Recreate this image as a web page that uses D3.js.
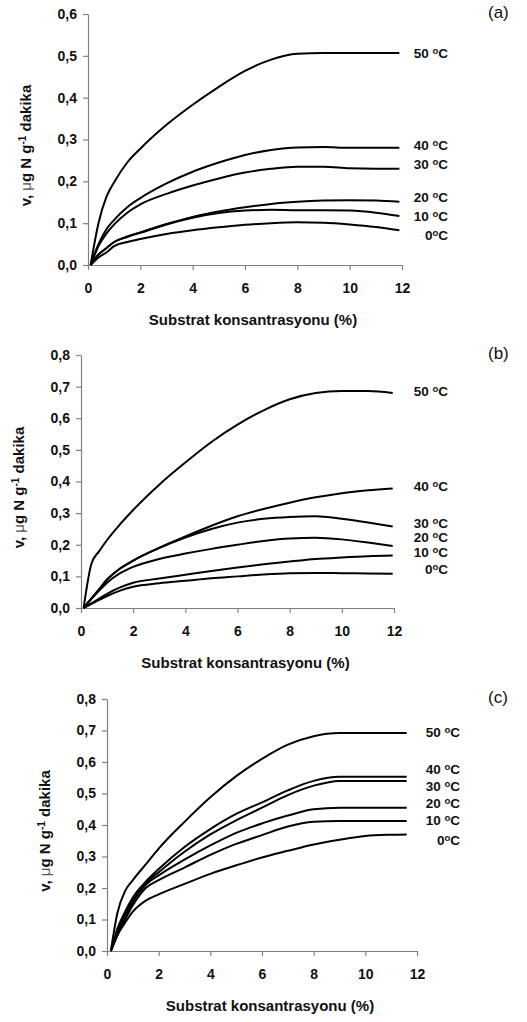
<!DOCTYPE html>
<html>
<head>
<meta charset="utf-8">
<script src="https://cdn.jsdelivr.net/npm/d3@7"></script>
<style>
  body { margin: 0; background: #fff; }
  svg { display: block; font-family: "Liberation Sans", Arial, sans-serif; }
</style>
</head>
<body>
<div id="vis"></div>
<script>
'use strict';

// Temperatures, top curve to bottom curve
const temps = ['50', '40', '30', '20', '10', '0'];
const xTicks = [0, 2, 4, 6, 8, 10, 12];

// Substrate concentration (%) where each curve was read
const xA = [0.1, 0.4, 0.7, 1, 1.5, 2, 3, 4, 5, 6, 7, 8, 9, 10, 11, 11.9];
const xB = [0.1, 0.4, 0.7, 1, 1.5, 2, 3, 4, 5, 6, 7, 8, 9, 10, 11, 11.95];
const xC = [0.15, 0.4, 0.7, 1, 1.5, 2, 3, 4, 5, 6, 7, 8, 9, 10, 11, 11.6];

// (a) rate v, ug N g-1 dakika
const a50 = [0, 0.10, 0.162, 0.198, 0.245, 0.278, 0.335, 0.383, 0.426, 0.464, 0.491, 0.505, 0.507, 0.507, 0.507, 0.507];
const a40 = [0, 0.05, 0.085, 0.108, 0.138, 0.16, 0.195, 0.223, 0.245, 0.263, 0.275, 0.281, 0.282, 0.28, 0.28, 0.28];
const a30 = [0, 0.045, 0.075, 0.097, 0.125, 0.145, 0.17, 0.19, 0.207, 0.221, 0.23, 0.235, 0.235, 0.231, 0.23, 0.23];
const a20 = [0, 0.025, 0.04, 0.055, 0.068, 0.078, 0.098, 0.115, 0.128, 0.138, 0.146, 0.151, 0.154, 0.155, 0.154, 0.151];
const a10 = [0, 0.025, 0.04, 0.055, 0.067, 0.077, 0.097, 0.113, 0.124, 0.13, 0.132, 0.131, 0.131, 0.13, 0.125, 0.117];
const a0 = [0, 0.018, 0.03, 0.045, 0.055, 0.062, 0.074, 0.083, 0.09, 0.096, 0.1, 0.102, 0.101, 0.097, 0.091, 0.083];

// (b)
const b50 = [0, 0.14, 0.18, 0.215, 0.265, 0.31, 0.39, 0.46, 0.525, 0.58, 0.625, 0.66, 0.68, 0.686, 0.686, 0.68];
const b40 = [0, 0.03, 0.06, 0.09, 0.125, 0.15, 0.19, 0.226, 0.26, 0.29, 0.313, 0.333, 0.35, 0.363, 0.372, 0.378];
const b30 = [0, 0.03, 0.06, 0.09, 0.125, 0.15, 0.19, 0.223, 0.25, 0.27, 0.282, 0.288, 0.29, 0.282, 0.27, 0.258];
const b20 = [0, 0.03, 0.055, 0.08, 0.11, 0.13, 0.155, 0.172, 0.187, 0.2, 0.212, 0.22, 0.222, 0.217, 0.207, 0.196];
const b10 = [0, 0.015, 0.03, 0.045, 0.065, 0.08, 0.093, 0.105, 0.117, 0.128, 0.138, 0.147, 0.155, 0.16, 0.164, 0.166];
const b0 = [0, 0.013, 0.026, 0.038, 0.055, 0.067, 0.078, 0.086, 0.094, 0.1, 0.106, 0.11, 0.111, 0.11, 0.109, 0.108];

// (c)
const c50 = [0, 0.12, 0.19, 0.225, 0.275, 0.325, 0.41, 0.488, 0.555, 0.61, 0.655, 0.682, 0.692, 0.692, 0.692, 0.692];
const c40 = [0, 0.07, 0.125, 0.17, 0.22, 0.26, 0.33, 0.387, 0.435, 0.472, 0.51, 0.54, 0.553, 0.553, 0.553, 0.553];
const c30 = [0, 0.06, 0.115, 0.16, 0.215, 0.25, 0.315, 0.37, 0.415, 0.455, 0.495, 0.525, 0.54, 0.54, 0.54, 0.54];
const c20 = [0, 0.055, 0.105, 0.155, 0.21, 0.24, 0.29, 0.335, 0.375, 0.405, 0.43, 0.45, 0.455, 0.455, 0.455, 0.455];
const c10 = [0, 0.05, 0.1, 0.145, 0.2, 0.225, 0.265, 0.305, 0.34, 0.368, 0.395, 0.41, 0.413, 0.413, 0.413, 0.413];
const c0 = [0, 0.05, 0.09, 0.125, 0.16, 0.18, 0.213, 0.245, 0.272, 0.297, 0.318, 0.338, 0.353, 0.365, 0.369, 0.37];

// Where the temperature labels sit, in v units
const labA = [0.507, 0.287, 0.241, 0.163, 0.117, 0.072];
const labB = [0.686, 0.386, 0.269, 0.224, 0.178, 0.124];
const labC = [0.694, 0.576, 0.523, 0.469, 0.414, 0.352];

// Panel geometry (pixels)
const panels = [
  { tag: '(a)', xs: xA, series: [a50, a40, a30, a20, a10, a0], labels: labA, yMax: 0.6,
    left: 88, right: 402, top: 14, bottom: 265, labelEnd: 448 },
  { tag: '(b)', xs: xB, series: [b50, b40, b30, b20, b10, b0], labels: labB, yMax: 0.8,
    left: 81, right: 394, top: 355, bottom: 608, labelEnd: 448 },
  { tag: '(c)', xs: xC, series: [c50, c40, c30, c20, c10, c0], labels: labC, yMax: 0.8,
    left: 107, right: 417, top: 699, bottom: 951, labelEnd: 460 }
];

const width = 527;
const height = 1022;
const axisColor = '#808080';
const fmt = d => d3.format('.1f')(d).replace('.', ',');

const svg = d3.select('#vis')
  .append('svg')
  .attr('width', width)
  .attr('height', height);

panels.forEach(function (p) {
  const x = d3.scaleLinear().domain([0, 12]).range([p.left, p.right]);
  const y = d3.scaleLinear().domain([0, p.yMax]).range([p.bottom, p.top]);
  const g = svg.append('g');

  // x axis
  const xAxis = g.append('g')
    .attr('transform', `translate(0,${p.bottom})`)
    .call(d3.axisBottom(x).tickValues(xTicks).tickSize(5).tickSizeOuter(0).tickPadding(13));

  // y axis
  const yAxis = g.append('g')
    .attr('transform', `translate(${p.left},0)`)
    .call(d3.axisLeft(y).ticks(Math.round(p.yMax * 10)).tickFormat(fmt)
      .tickSize(5).tickSizeOuter(0).tickPadding(6));

  [xAxis, yAxis].forEach(function (ax) {
    ax.select('.domain').attr('stroke', axisColor).attr('stroke-width', 1.2);
    ax.selectAll('.tick line').attr('stroke', axisColor).attr('stroke-width', 1.2);
    ax.selectAll('.tick text')
      .attr('fill', '#111')
      .style('font-size', '14px')
      .style('font-weight', 'bold')
      .style('font-family', '"Liberation Sans", Arial, sans-serif');
  });

  // curves
  const line = d3.line()
    .x((d, i) => x(p.xs[i]))
    .y(d => y(d))
    .curve(d3.curveMonotoneX);

  g.selectAll('path.curve')
    .data(p.series)
    .enter().append('path')
    .attr('class', 'curve')
    .attr('d', line)
    .attr('fill', 'none')
    .attr('stroke', '#000')
    .attr('stroke-width', 2)
    .attr('stroke-linejoin', 'round');

  // temperature labels
  const lab = g.selectAll('text.temp')
    .data(temps)
    .enter().append('text')
    .attr('class', 'temp')
    .attr('x', p.labelEnd)
    .attr('y', (d, i) => y(p.labels[i]))
    .attr('dy', '0.36em')
    .attr('text-anchor', 'end')
    .style('font-size', '13.5px')
    .style('font-weight', 'bold')
    .attr('fill', '#111');
  lab.append('tspan').text(d => d === '0' ? d : d + ' ');
  lab.append('tspan').attr('dy', -4).style('font-size', '9.5px').text('o');
  lab.append('tspan').attr('dy', 4).text('C');

  // x axis title
  g.append('text')
    .attr('x', (p.left + p.right) / 2 + 8)
    .attr('y', p.bottom + 60)
    .attr('text-anchor', 'middle')
    .style('font-size', '15px')
    .style('font-weight', 'bold')
    .attr('fill', '#111')
    .text('Substrat konsantrasyonu (%)');

  // y axis title
  const yt = g.append('text')
    .attr('transform', `translate(${p.left - 62},${(p.top + p.bottom) / 2 + 6}) rotate(-90)`)
    .attr('text-anchor', 'middle')
    .attr('dy', '0.36em')
    .style('font-size', '15px')
    .style('font-weight', 'bold')
    .attr('fill', '#111');
  yt.append('tspan').text('v, ');
  yt.append('tspan').style('font-weight', 'normal').attr('fill', '#555').text('\u03bc');
  yt.append('tspan').text('g N g');
  yt.append('tspan').attr('dy', -5).style('font-size', '10px').text('-1');
  yt.append('tspan').attr('dy', 5).text(' dakika');

  // panel tag
  g.append('text')
    .attr('x', 488)
    .attr('y', p.top + 4)
    .style('font-size', '17px')
    .attr('fill', '#111')
    .text(p.tag);
});
</script>
</body>
</html>
